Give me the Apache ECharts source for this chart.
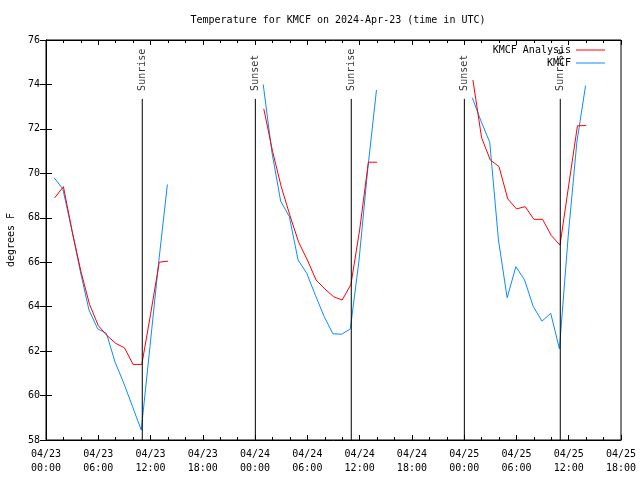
<!DOCTYPE html>
<html>
<head>
<meta charset="utf-8">
<script src="https://cdn.jsdelivr.net/npm/echarts@6/dist/echarts.min.js"></script>
<style>html,body{margin:0;padding:0;background:#fff}#c{width:640px;height:480px}</style>
</head>
<body>
<div id="c"></div>
<script>
// ---- data (hours since 04/23 00:00 UTC, degrees F) ----
const xTickLabels = ['04/23\n00:00','04/23\n06:00','04/23\n12:00','04/23\n18:00',
                     '04/24\n00:00','04/24\n06:00','04/24\n12:00','04/24\n18:00',
                     '04/25\n00:00','04/25\n06:00','04/25\n12:00','04/25\n18:00'];
const yTicks = [58, 60, 62, 64, 66, 68, 70, 72, 74, 76];

// KMCF Analysis: hourly, on the hour
const analysisStartHours = [1, 25, 49];
const analysisDay1 = [68.9, 69.4, 67.4, 65.6, 64.1, 63.15, 62.7, 62.35, 62.15, 61.4, 61.4, 63.65, 66.0, 66.05];
const analysisDay2 = [72.9, 71.0, 69.4, 68.1, 66.9, 66.1, 65.2, 64.8, 64.45, 64.3, 65.0, 67.45, 70.5, 70.5];
const analysisDay3 = [74.2, 71.6, 70.6, 70.3, 68.85, 68.4, 68.5, 67.93, 67.93, 67.2, 66.77, 69.47, 72.14, 72.15];

// KMCF observations: hourly at hh:56
const obsStartHours = [0 + 56/60, 24 + 56/60, 48 + 56/60];
const obsDay1 = [69.8, 69.3, 67.5, 65.6, 63.85, 63.0, 62.8, 61.5, 60.55, 59.5, 58.45, 62.2, 66.0, 69.5];
const obsDay2 = [74.0, 70.95, 68.75, 68.05, 66.1, 65.5, 64.5, 63.55, 62.78, 62.76, 63.0, 66.1, 70.2, 73.75];
const obsDay3 = [73.4, 72.35, 71.4, 67.0, 64.4, 65.8, 65.2, 64.0, 63.35, 63.7, 62.1, 67.15, 71.4, 73.95];

const sunEventNames = ['Sunrise', 'Sunset', 'Sunrise', 'Sunset', 'Sunrise'];
const sunEventHours = [11.05, 24.03, 35.04, 48.02, 59.03];
const sunMarkerTop = 73.35;

// ---- chart ----
const FONT = 'DejaVu Sans Mono';
const RED = '#ff0000', BLUE = '#0a8cff';

function hourly(start, vals) { return vals.map((v, i) => [start + i, v]); }

const series = [];
[analysisDay1, analysisDay2, analysisDay3].forEach((d, k) => {
  series.push({ name: 'KMCF Analysis', type: 'line', data: hourly(analysisStartHours[k], d),
    showSymbol: false, symbol: 'none', lineStyle: { color: RED, width: 1 }, itemStyle: { color: RED }, z: 3, animation: false });
});
[obsDay1, obsDay2, obsDay3].forEach((d, k) => {
  series.push({ name: 'KMCF', type: 'line', data: hourly(obsStartHours[k], d),
    showSymbol: false, symbol: 'none', lineStyle: { color: BLUE, width: 1 }, itemStyle: { color: BLUE }, z: 2, animation: false });
});
sunEventHours.forEach((h, i) => {
  series.push({ name: 'sun' + i, type: 'line', data: [[h, sunMarkerTop], [h, 58]],
    showSymbol: false, symbol: 'none', lineStyle: { color: '#000', width: 1 }, z: 4, animation: false, silent: true });
});
series.push({ name: 'sunLabels', type: 'scatter', symbolSize: 0, animation: false, silent: true,
  data: sunEventHours.map((h, i) => ({ value: [h, sunMarkerTop], name: sunEventNames[i] })),
  label: { show: true, formatter: '{b}', position: 'top', distance: 7, rotate: 90,
           align: 'left', verticalAlign: 'middle', fontFamily: FONT, fontSize: 10, color: '#000', offset: [1, 0] } });

const chart = echarts.init(document.getElementById('c'), null, { renderer: 'canvas' });
chart.setOption({
  backgroundColor: '#fff',
  animation: false,
  title: { text: 'Temperature for KMCF on 2024-Apr-23 (time in UTC)', left: 333, top: 10, textAlign: 'center',
           textStyle: { fontFamily: FONT, fontSize: 10, fontWeight: 'normal', color: '#000' } },
  legend: [
    { data: ['KMCF Analysis'], right: 30, top: 40, orient: 'vertical', align: 'right', icon: 'rect',
      itemWidth: 29, itemHeight: 1, itemGap: 4, textStyle: { fontFamily: FONT, fontSize: 10, color: '#000' } },
    { data: ['KMCF'], right: 30, top: 53, orient: 'vertical', align: 'right', icon: 'rect',
      itemWidth: 29, itemHeight: 1, itemGap: 4, textStyle: { fontFamily: FONT, fontSize: 10, color: '#000' } }
  ],
  grid: { left: 46, right: 19, top: 40, bottom: 40, containLabel: false, outerBoundsMode: 'none',
          show: true, borderColor: '#000', borderWidth: 1, backgroundColor: 'transparent' },
  xAxis: [
    { type: 'value', min: 0, max: 66, interval: 6, position: 'bottom',
      axisLine: { lineStyle: { color: '#000' } },
      axisTick: { inside: true, length: 5, lineStyle: { color: '#000' } },
      minorTick: { show: true, splitNumber: 3, length: 3, lineStyle: { color: '#000' } },
      splitLine: { show: false },
      axisLabel: { margin: 7, lineHeight: 14, fontFamily: FONT, fontSize: 10, color: '#000',
                   formatter: v => xTickLabels[Math.round(v / 6)] } },
    { type: 'value', min: 0, max: 66, interval: 6, position: 'top',
      axisLine: { lineStyle: { color: '#000' } },
      axisTick: { inside: true, length: 5, lineStyle: { color: '#000' } },
      minorTick: { show: true, splitNumber: 3, length: 3, lineStyle: { color: '#000' } },
      splitLine: { show: false }, axisLabel: { show: false } }
  ],
  yAxis: [
    { type: 'value', min: yTicks[0], max: yTicks[yTicks.length - 1], interval: 2, position: 'left',
      name: 'degrees F', nameLocation: 'middle', nameGap: 30, nameRotate: 90,
      nameTextStyle: { fontFamily: FONT, fontSize: 10, color: '#000' },
      axisLine: { lineStyle: { color: '#000' } },
      axisTick: { inside: true, length: 6, lineStyle: { color: '#000' } },
      splitLine: { show: false },
      axisLabel: { margin: 6, fontFamily: FONT, fontSize: 10, color: '#000' } },
    { type: 'value', min: yTicks[0], max: yTicks[yTicks.length - 1], interval: 2, position: 'right',
      axisLine: { lineStyle: { color: '#000' } },
      axisTick: { inside: true, length: 6, lineStyle: { color: '#000' } },
      splitLine: { show: false }, axisLabel: { show: false } }
  ],
  series: series
});
</script>
</body>
</html>
